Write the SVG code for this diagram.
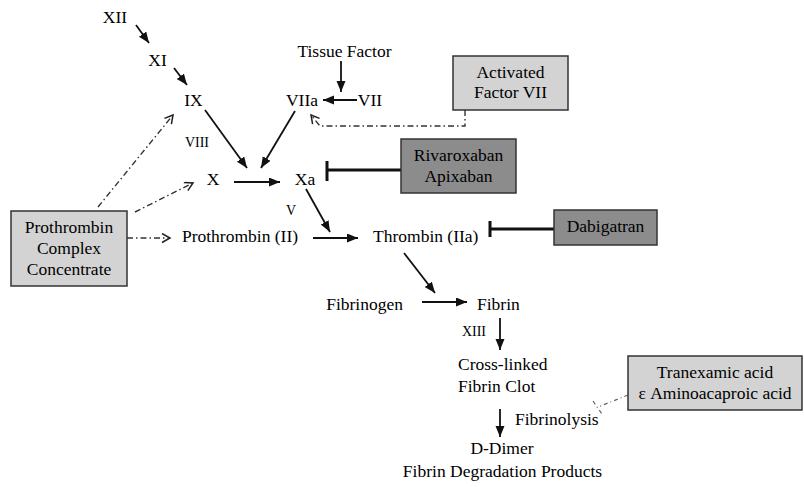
<svg xmlns="http://www.w3.org/2000/svg" width="804" height="487" viewBox="0 0 804 487">
<defs>
<marker id="ah" markerUnits="userSpaceOnUse" markerWidth="12" markerHeight="10" refX="11" refY="4.5" orient="auto">
<path d="M0,0 L11,4.5 L0,9 z" fill="#111"/>
</marker>
<marker id="oh" markerUnits="userSpaceOnUse" markerWidth="12" markerHeight="12" refX="9" refY="5" orient="auto">
<path d="M1,0.5 L9,5 L1,9.5" fill="none" stroke="#222" stroke-width="1.5"/>
</marker>
</defs>
<style>
text{font-family:"Liberation Serif","Times New Roman",serif;font-size:17.5px;fill:#000}
.sm{font-size:14px}
.c{text-anchor:middle}
.arr{stroke:#111;stroke-width:1.8;fill:none;marker-end:url(#ah)}
.dsh{stroke:#333;stroke-width:1.4;fill:none;stroke-dasharray:6 3 1.5 3;marker-end:url(#oh)}
.inh{stroke:#111;stroke-width:3;fill:none}
.lb{fill:#d3d3d3;stroke:#333;stroke-width:1.5}
.db{fill:#8c8c8c;stroke:#333;stroke-width:1.5}
</style>
<rect width="804" height="487" fill="#fff"/>
<g id="connectors">
<line class="arr" x1="136" y1="25" x2="149" y2="43"/>
<line class="arr" x1="174" y1="68" x2="187" y2="85"/>
<line class="arr" x1="205" y1="110" x2="247" y2="168"/>
<line class="arr" x1="295" y1="111" x2="261" y2="168"/>
<line class="arr" x1="341" y1="61" x2="341" y2="92"/>
<line class="arr" x1="357" y1="100" x2="323" y2="100"/>
<line class="arr" x1="234" y1="182" x2="280" y2="182"/>
<line class="arr" x1="306" y1="189" x2="330" y2="232"/>
<line class="arr" x1="313" y1="238" x2="358" y2="238"/>
<line class="arr" x1="404" y1="253" x2="435" y2="293"/>
<line class="arr" x1="422" y1="302" x2="467" y2="302"/>
<line class="arr" x1="500" y1="318" x2="500" y2="350"/>
<line class="arr" x1="500" y1="409" x2="500" y2="437"/>
<path class="inh" d="M327,170 H401 M327,161 V181"/>
<path class="inh" d="M490,229 H554 M490,221 V237"/>
<line class="dsh" x1="98" y1="207" x2="173" y2="115"/>
<line class="dsh" x1="135" y1="212" x2="193" y2="183"/>
<line class="dsh" x1="127" y1="238" x2="170" y2="238"/>
<path class="dsh" d="M465,110 V126 H320 L311,115"/>
<path d="M628,395 L598,407 M593,401 L602,414" fill="none" stroke="#666" stroke-width="1.2" stroke-dasharray="4 3 1 3"/>
</g>
<g id="n-xii"><text class="c" x="115" y="23">XII</text></g>
<g id="n-xi"><text class="c" x="157.5" y="66">XI</text></g>
<g id="n-ix"><text class="c" x="193.5" y="106">IX</text></g>
<g id="n-viii"><text class="c sm" x="197" y="147">VIII</text></g>
<g id="n-tf"><text class="c" x="344.5" y="57">Tissue Factor</text></g>
<g id="n-viia"><text class="c" x="302" y="106">VIIa</text></g>
<g id="n-vii"><text class="c" x="370" y="106">VII</text></g>
<g id="n-x"><text class="c" x="213" y="185">X</text></g>
<g id="n-xa"><text class="c" x="305" y="185">Xa</text></g>
<g id="n-v"><text class="c sm" x="291" y="215">V</text></g>
<g id="n-prothrombin"><text class="c" x="240" y="242">Prothrombin (II)</text></g>
<g id="n-thrombin"><text x="373" y="242">Thrombin (IIa)</text></g>
<g id="n-fibrinogen"><text x="403" y="310" text-anchor="end">Fibrinogen</text></g>
<g id="n-fibrin"><text x="477" y="310">Fibrin</text></g>
<g id="n-xiii"><text class="c sm" x="474" y="336">XIII</text></g>
<g id="n-clot"><text x="458" y="370">Cross-linked</text><text x="458" y="392">Fibrin Clot</text></g>
<g id="n-fibrinolysis"><text x="515" y="425">Fibrinolysis</text></g>
<g id="n-ddimer"><text class="c" x="502" y="454">D-Dimer</text><text class="c" x="502.5" y="477">Fibrin Degradation Products</text></g>
<g id="n-pcc"><rect class="lb" x="11" y="211" width="116" height="75"/>
<text class="c" x="69" y="233">Prothrombin</text><text class="c" x="69" y="254">Complex</text><text class="c" x="69" y="275">Concentrate</text></g>
<g id="n-f7a"><rect class="lb" x="453" y="56" width="115" height="54"/>
<text class="c" x="510.5" y="78">Activated</text><text class="c" x="510.5" y="98">Factor VII</text></g>
<g id="n-riva"><rect class="db" x="401" y="139" width="115" height="54"/>
<text class="c" x="458.5" y="161">Rivaroxaban</text><text class="c" x="458.5" y="182">Apixaban</text></g>
<g id="n-dabi"><rect class="db" x="554" y="210" width="103" height="35"/>
<text class="c" x="605.5" y="232">Dabigatran</text></g>
<g id="n-txa"><rect class="lb" x="628" y="356" width="174" height="54"/>
<text class="c" x="715" y="378">Tranexamic acid</text><text class="c" x="715" y="399">ε Aminoacaproic acid</text></g>
</svg>
